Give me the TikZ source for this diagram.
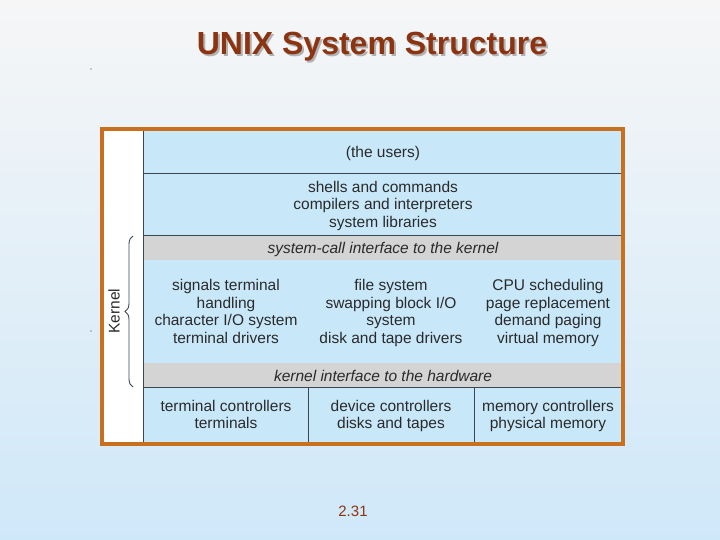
\documentclass[tikz,border=0pt]{standalone}
\usepackage{fontspec}
\setmainfont{Liberation Sans}
\usetikzlibrary{decorations.pathreplacing}
\definecolor{bgtop}{HTML}{F6F6F7}
\definecolor{bgbot}{HTML}{CFE8F9}
\definecolor{cellblue}{HTML}{C8E8F9}
\definecolor{cellgray}{HTML}{D4D4D4}
\definecolor{frameor}{HTML}{C8701E}
\definecolor{titlebrown}{HTML}{8C3412}
\definecolor{linegray}{HTML}{3C4650}
\definecolor{txt}{HTML}{2A2A2A}
\tikzset{
  bodytxt/.style={font=\fontsize{15.5}{17.7}\selectfont, text=txt, align=center, inner sep=0pt,
    execute at begin node=\strut, execute at end node=\strut},
  itxt/.style={bodytxt, font=\fontsize{15.5}{17.7}\selectfont\itshape},
  sep/.style={draw=linegray, line width=1pt},
  titletxt/.style={font=\fontsize{32}{36}\selectfont\bfseries, inner sep=0pt},
}
\begin{document}
\begin{tikzpicture}[x=1pt,y=-1pt]
\useasboundingbox (0,0) rectangle (720,540);
\shade[top color=bgtop, bottom color=bgbot] (0,0) rectangle (720,540);
% dots
\fill[black!80] (91,69) circle (0.7);
\fill[black!80] (91,331) circle (0.7);
% title
\node[titletxt, text=black!30] (titleshadow) at (374,49) {UNIX System Structure};
\node[titletxt, text=titlebrown] (title) at (372,47) {UNIX System Structure};
% inner white area
\fill[white] (102,129) rectangle (623,444);
% cells
\fill[cellblue] (143.5,131) rectangle (621,236);
\fill[cellgray] (143.5,236) rectangle (621,260);
\fill[cellblue] (143.5,260) rectangle (621,363);
\fill[cellgray] (143.5,363) rectangle (621,387.3);
\fill[cellblue] (143.5,387.3) rectangle (621,442);
% separators
\draw[sep] (143.5,131) -- (143.5,442);
\draw[sep] (143.5,173.5) -- (621,173.5);
\draw[sep] (143.5,235.7) -- (621,235.7);
\draw[sep] (143.5,387.3) -- (621,387.3);
\draw[sep] (308.7,387.3) -- (308.7,442);
\draw[sep] (474,387.3) -- (474,442);
% frame
\draw[frameor, line width=4pt] (102,129) rectangle (623,444);
% texts
\node[bodytxt] (users) at (383,154) {(the users)};
\node[bodytxt] (shells) at (383,207) {shells and commands\\compilers and interpreters\\system libraries};
\node[itxt] (sci) at (383,249.5) {system-call interface to the kernel};
\node[bodytxt] (k1) at (226,314) {signals terminal\\handling\\character I/O system\\terminal drivers};
\node[bodytxt] (k2) at (391,314) {file system\\swapping block I/O\\system\\disk and tape drivers};
\node[bodytxt] (k3) at (548,314) {CPU scheduling\\page replacement\\demand paging\\virtual memory};
\node[itxt] (khw) at (383,377.5) {kernel interface to the hardware};
\node[bodytxt] (h1) at (226,417) {terminal controllers\\terminals};
\node[bodytxt] (h2) at (391,417) {device controllers\\disks and tapes};
\node[bodytxt] (h3) at (548,417) {memory controllers\\physical memory};
% kernel brace and label
\coordinate (bracebot) at (133,387);
\coordinate (bracetop) at (133,236);
\draw[linegray, line width=0.9pt, decorate, decoration={brace, amplitude=8pt}] (bracebot) -- (bracetop);
\node[bodytxt, rotate=90] (kernel) at (116,311) {Kernel};
% page number
\node[font=\fontsize{15}{17}\selectfont, text=titlebrown, inner sep=0pt] (pagenum) at (353,511) {2.31};
\end{tikzpicture}
\end{document}
